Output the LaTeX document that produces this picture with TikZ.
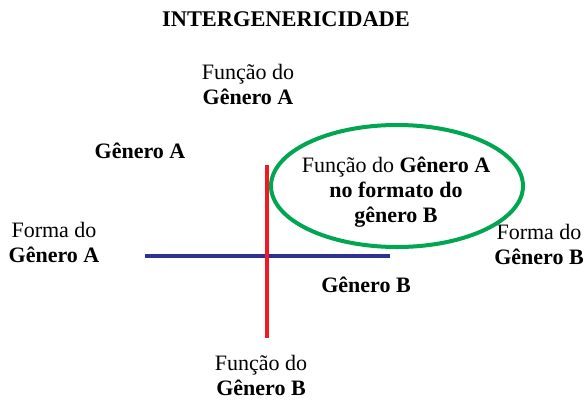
\documentclass[tikz,border=0pt]{standalone}
\usepackage{fontspec}
\setmainfont{Liberation Serif}
\usetikzlibrary{shapes.geometric}
\definecolor{azulforma}{HTML}{2E3192}
\definecolor{vermelhofuncao}{HTML}{ED1C24}
\definecolor{verdeelipse}{HTML}{00A651}
\begin{document}
\begin{tikzpicture}[x=0.75pt,y=-0.75pt,
  rotulo/.style={align=center, inner sep=0pt, anchor=base,
    font=\fontsize{16.5}{18.4}\selectfont}]
  \useasboundingbox (0,0) rectangle (585,400);
  % Title
  \node[rotulo, font=\fontsize{16.8}{20}\selectfont\bfseries] (titulo) at (286,26) {INTERGENERICIDADE};
  % Axes
  \coordinate (fesq) at (145,256);
  \coordinate (fdir) at (390,256);
  \coordinate (ftopo) at (267,165);
  \coordinate (fbase) at (267,338);
  \draw[azulforma, line width=3pt] (fesq) -- (fdir);
  \draw[vermelhofuncao, line width=2.5pt] (ftopo) -- (fbase);
  % Axis labels (base = last line)
  \node[rotulo] (funcaoA) at (248,104) {Função do\\\textbf{Gênero A}};
  \node[rotulo] (funcaoB) at (261,395) {Função do\\\textbf{Gênero B}};
  \node[rotulo] (formaA) at (54,262) {Forma do\\\textbf{Gênero A}};
  \node[rotulo] (formaB) at (539,264) {Forma do\\\textbf{Gênero B}};
  % Quadrants
  \node[rotulo, font=\fontsize{16.5}{18.4}\selectfont\bfseries] (generoA) at (140,158) {Gênero A};
  \node[rotulo, font=\fontsize{16.5}{18.4}\selectfont\bfseries] (generoB) at (366,292) {Gênero B};
  % Ellipse
  \node[ellipse, draw=verdeelipse, line width=3pt, minimum width=189pt, minimum height=91.5pt] (elipse) at (397,186) {};
  \node[rotulo] (funcaoAB) at (396,222) {Função do \textbf{Gênero A}\\\textbf{no formato do}\\\textbf{gênero B}};
\end{tikzpicture}
\end{document}
